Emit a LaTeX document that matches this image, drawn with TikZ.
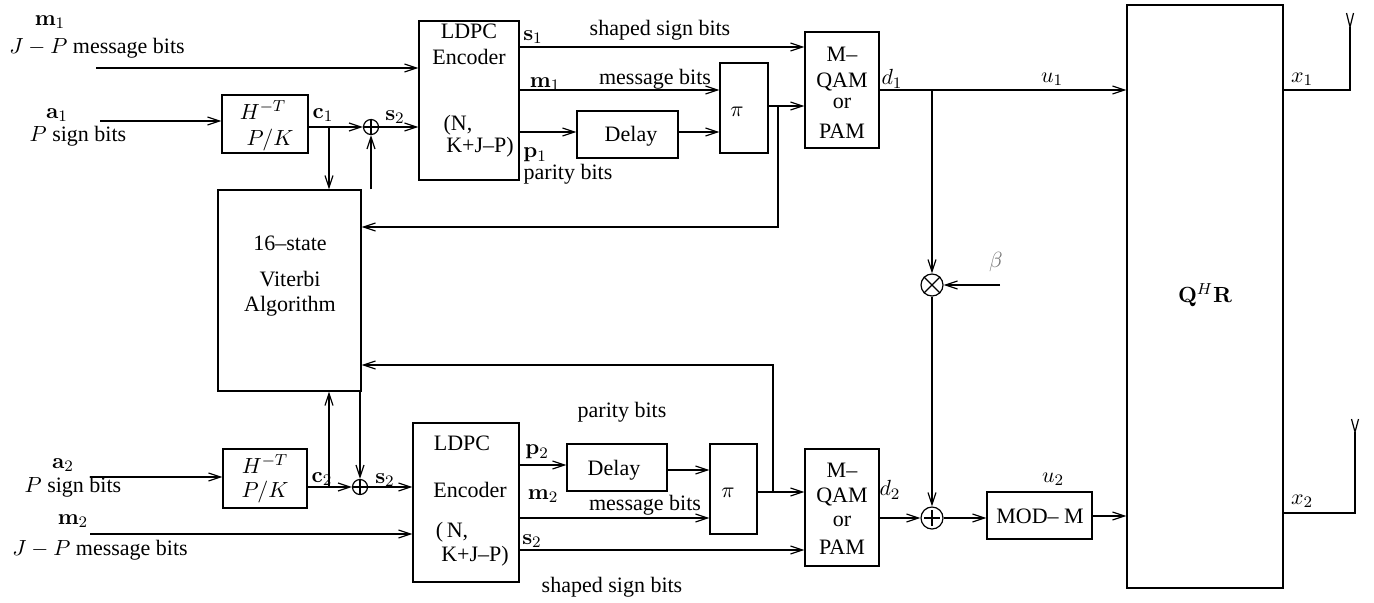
\documentclass[tikz,border=0pt]{standalone}
\usepackage[no-math]{fontspec}
\setmainfont{Liberation Serif}
\usetikzlibrary{arrows.meta,fit}
\begin{document}
\begin{tikzpicture}[x=0.5pt,y=-0.5pt,
  box/.style={draw, inner sep=0pt, line width=0.6pt},
  arr/.style={-{Straight Barb[length=6pt,width=4pt]}, line width=0.6pt},
  ln/.style={line width=0.6pt},
  lbl/.style={inner sep=0pt, font=\fontsize{11}{13}\selectfont},
  sumnode/.style={circle, draw, inner sep=0pt, line width=0.6pt}]
\useasboundingbox (0,0) rectangle (1374,602);
% boxes
\node[box, fit={(222,95) (308,153)}] (H1) {};
\node[box, fit={(419,21) (519,180)}] (L1) {};
\node[box, fit={(577,111) (678,158)}] (D1) {};
\node[box, fit={(720,63) (768,153)}] (P1) {};
\node[box, fit={(805,32) (879,148)}] (M1) {};
\node[box, fit={(218,190) (361,391)}] (Vit) {};
\node[box, fit={(223,449) (307,508)}] (H2) {};
\node[box, fit={(413,423) (519,582)}] (L2) {};
\node[box, fit={(567,444) (667,491)}] (D2) {};
\node[box, fit={(710,444) (757,534)}] (P2) {};
\node[box, fit={(805,449) (879,566)}] (M2) {};
\node[box, fit={(987,492) (1092,539)}] (MOD) {};
\node[box, fit={(1127,5) (1283,588)}] (QR) {};
% circles
\node[sumnode, minimum size=7.5pt] (X1) at (371,127) {};
\draw[ln] (X1.north) -- (X1.south) (X1.west) -- (X1.east);
\node[sumnode, minimum size=7.5pt] (X2) at (360,487) {};
\draw[ln] (X2.north) -- (X2.south) (X2.west) -- (X2.east);
\node[sumnode, minimum size=11pt] (MUL) at (932,285) {};
\draw[ln] (MUL.north east) -- (MUL.south west) (MUL.north west) -- (MUL.south east);
\node[sumnode, minimum size=11pt] (ADD) at (932,518) {};
\draw[ln] ([yshift=-1.8pt]ADD.north) -- ([yshift=1.8pt]ADD.south) ([xshift=1.8pt]ADD.west) -- ([xshift=-1.8pt]ADD.east);
% coordinates
\coordinate (m1in) at (96,68);
\coordinate (a1in) at (100,121);
\coordinate (c1b) at (329,127);
\coordinate (fb1) at (778,106);
\coordinate (fb1c) at (778,227);
\coordinate (d1b) at (932,90);
\coordinate (beta) at (1000,285);
\coordinate (ant1) at (1350,90);
\coordinate (ant1t) at (1350,27);
\coordinate (ant2) at (1355,513);
\coordinate (ant2t) at (1355,432);
\coordinate (a2in) at (90,477);
\coordinate (m2in) at (90,534);
\coordinate (c2b) at (329,487);
\coordinate (fb2) at (773,492);
\coordinate (fb2c) at (773,365);
% top branch connectors
\draw[arr] (m1in) -- (L1.west |- m1in);
\draw[arr] (a1in) -- (H1.west |- a1in);
\draw[arr] (H1.east |- X1) -- (X1);
\draw[arr] (X1) -- (L1.west |- X1);
\draw[arr] (c1b) -- (Vit.north -| c1b);
\draw[arr] (Vit.north -| X1) -- (X1);
\draw[arr] (L1.east |- 0,47) -- (M1.west |- 0,47);
\draw[arr] (L1.east |- 0,90) -- (P1.west |- 0,90);
\draw[arr] (L1.east |- 0,132) -- (D1.west |- 0,132);
\draw[arr] (D1.east |- 0,132) -- (P1.west |- 0,132);
\draw[arr] (P1.east |- fb1) -- (M1.west |- fb1);
\draw[arr] (fb1) -- (fb1c) -- (Vit.east |- fb1c);
\draw[arr] (M1.east |- d1b) -- (QR.west |- d1b);
\draw[arr] (d1b) -- (MUL);
\draw[arr] (beta) -- (MUL);
\draw[arr] (MUL) -- (ADD);
\draw[arr] (M2.east |- ADD) -- (ADD);
\draw[arr] (ADD) -- (MOD.west |- ADD);
\draw[arr] (MOD.east |- 0,516) -- (QR.west |- 0,516);
\draw[ln] (QR.east |- ant1) -- (ant1) -- (ant1t);
\draw[ln] (1346.5,13) -- (ant1t) -- (1353.5,13);
\draw[ln] (QR.east |- ant2) -- (ant2) -- (ant2t);
\draw[ln] (1351.5,419) -- (ant2t) -- (1358.5,419);
% bottom branch connectors
\draw[arr] (a2in) -- (H2.west |- a2in);
\draw[arr] (H2.east |- X2) -- (X2);
\draw[arr] (X2) -- (L2.west |- X2);
\draw[arr] (c2b) -- (Vit.south -| c2b);
\draw[arr] (Vit.south -| X2) -- (X2);
\draw[arr] (m2in) -- (L2.west |- m2in);
\draw[arr] (L2.east |- 0,465) -- (D2.west |- 0,465);
\draw[arr] (D2.east |- 0,470) -- (P2.west |- 0,470);
\draw[arr] (L2.east |- 0,518) -- (P2.west |- 0,518);
\draw[arr] (L2.east |- 0,550) -- (M2.west |- 0,550);
\draw[arr] (P2.east |- fb2) -- (M2.west |- fb2);
\draw[arr] (fb2) -- (fb2c) -- (Vit.east |- fb2c);
\draw[line width=1.4pt] (673,365) -- (691,365);
% labels top
\node[lbl] (t1) at (50,22) {$\mathbf{m}_1$};
\node[lbl] (t2) at (97,48) {$J-P$ message bits};
\node[lbl] (t3) at (57,115) {$\mathbf{a}_1$};
\node[lbl] (t4) at (78,136) {$P$ sign bits};
\node[lbl] (t5) at (263,110) {$H^{-T}$};
\node[lbl] (t6) at (270,140) {$P/K$};
\node[lbl] (t7) at (323,115) {$\mathbf{c}_1$};
\node[lbl] (t8) at (395,117) {$\mathbf{s}_2$};
\node[lbl] (t9) at (469,31) {LDPC};
\node[lbl] (t10) at (469,57) {Encoder};
\node[lbl] (t11) at (458,125) {(N,};
\node[lbl] (t12) at (480,147) {K+J--P)};
\node[lbl] (t13) at (533,37) {$\mathbf{s}_1$};
\node[lbl] (t14) at (660,30) {shaped sign bits};
\node[lbl] (t16) at (545,84) {$\mathbf{m}_1$};
\node[lbl] (t17) at (655,79) {message bits};
\node[lbl] (t18) at (535,155) {$\mathbf{p}_1$};
\node[lbl] (t19) at (568,174) {parity bits};
\node[lbl] (t20) at (631,136) {Delay};
\node[lbl] (t21) at (737,112) {$\pi$};
\node[lbl] (t22) at (842,54) {M--};
\node[lbl] (t23) at (842,82) {QAM};
\node[lbl] (t24) at (842,103) {or};
\node[lbl] (t25) at (842,131) {PAM};
\node[lbl] (t26) at (892,79) {$d_1$};
\node[lbl] (t27) at (1052,79) {$u_1$};
\node[lbl] (t28) at (1302,79) {$x_1$};
\node[lbl] (t29) at (1205,295) {$\mathbf{Q}^{H}\mathbf{R}$};
\node[lbl, text=black!55] (t30) at (996,262) {$\beta$};
\node[lbl] (t31) at (290,243) {16--state};
\node[lbl] (t32) at (290,279) {Viterbi};
\node[lbl] (t33) at (290,306) {Algorithm};
% labels bottom
\node[lbl] (b1) at (63,465) {$\mathbf{a}_2$};
\node[lbl] (b2) at (73,487) {$P$ sign bits};
\node[lbl] (b3) at (73,521) {$\mathbf{m}_2$};
\node[lbl] (b4) at (100,550) {$J-P$ message bits};
\node[lbl] (b5) at (265,464) {$H^{-T}$};
\node[lbl] (b6) at (265,492) {$P/K$};
\node[lbl] (b7) at (322,479) {$\mathbf{c}_2$};
\node[lbl] (b8) at (385,480) {$\mathbf{s}_2$};
\node[lbl] (b9) at (462,443) {LDPC};
\node[lbl] (b10) at (470,490) {Encoder};
\node[lbl] (b11) at (452,532) {(\,N,};
\node[lbl] (b12) at (475,556) {K+J--P)};
\node[lbl] (b13) at (622,412) {parity bits};
\node[lbl] (b14) at (537,452) {$\mathbf{p}_2$};
\node[lbl] (b15) at (614,470) {Delay};
\node[lbl] (b16) at (543,496) {$\mathbf{m}_2$};
\node[lbl] (b17) at (645,505) {message bits};
\node[lbl] (b18) at (532,541) {$\mathbf{s}_2$};
\node[lbl] (b19) at (612,587) {shaped sign bits};
\node[lbl] (b20) at (728,493) {$\pi$};
\node[lbl] (b21) at (842,470) {M--};
\node[lbl] (b22) at (842,497) {QAM};
\node[lbl] (b23) at (842,521) {or};
\node[lbl] (b24) at (842,547) {PAM};
\node[lbl] (b25) at (890,490) {$d_2$};
\node[lbl] (b26) at (1053,479) {$u_2$};
\node[lbl] (b27) at (1040,516) {MOD-- M};
\node[lbl] (b28) at (1302,501) {$x_2$};
\end{tikzpicture}
\end{document}
